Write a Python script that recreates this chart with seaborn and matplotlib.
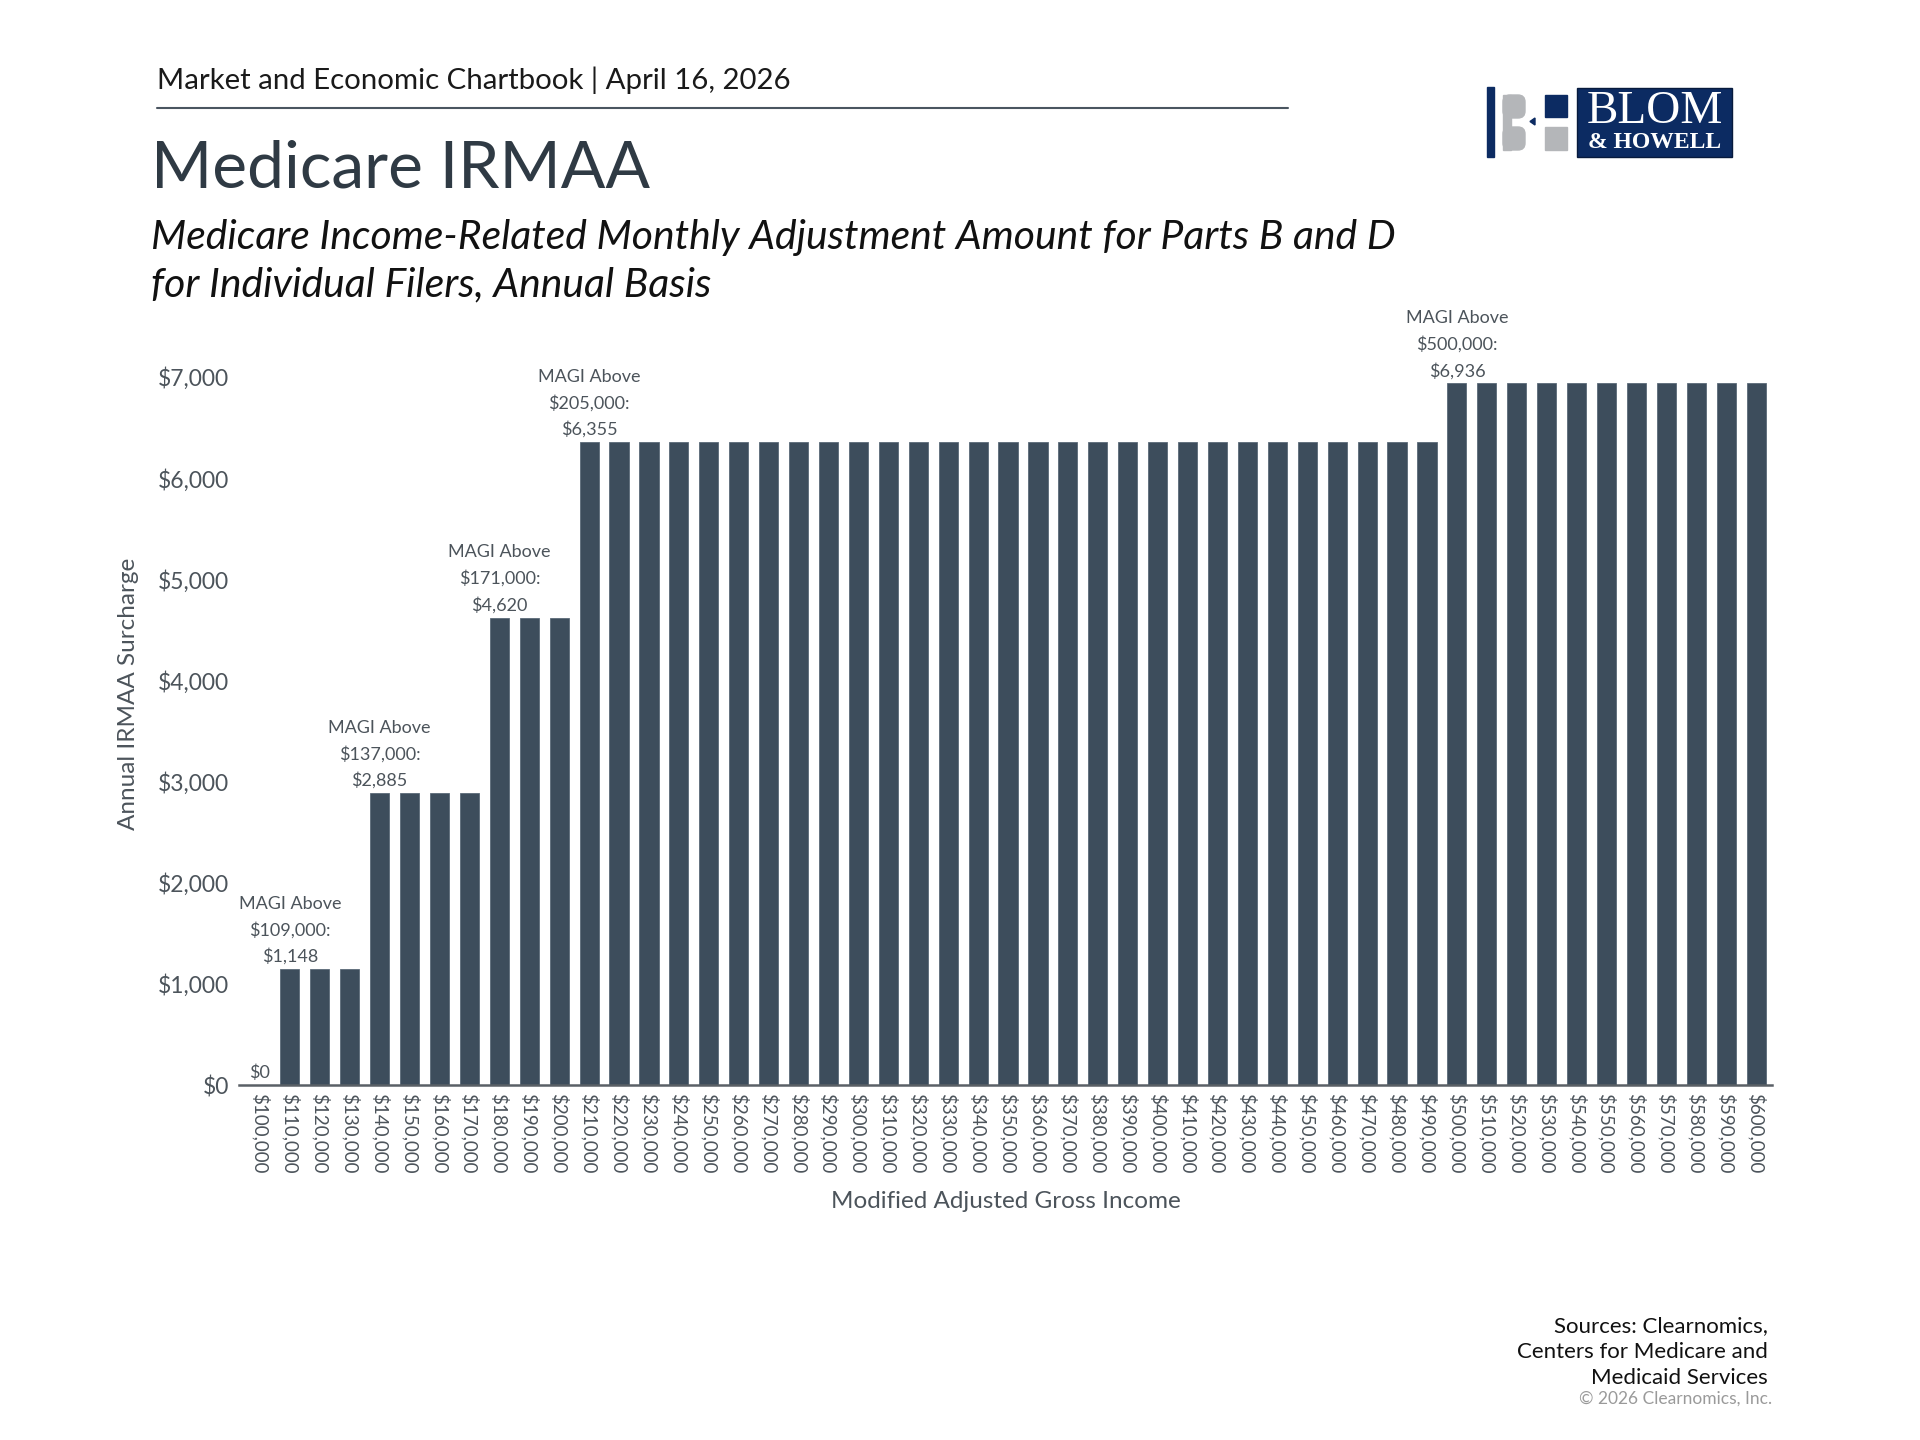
import matplotlib
matplotlib.use("Agg")
import matplotlib.pyplot as plt
import matplotlib.patches as mpatches
import seaborn as sns
import pandas as pd

# data
incomes = [100000, 110000, 120000, 130000, 140000, 150000, 160000, 170000,
           180000, 190000, 200000, 210000, 220000, 230000, 240000, 250000,
           260000, 270000, 280000, 290000, 300000, 310000, 320000, 330000,
           340000, 350000, 360000, 370000, 380000, 390000, 400000, 410000,
           420000, 430000, 440000, 450000, 460000, 470000, 480000, 490000,
           500000, 510000, 520000, 530000, 540000, 550000, 560000, 570000,
           580000, 590000, 600000]
surcharge = [0, 1148, 1148, 1148, 2885, 2885, 2885, 2885,
             4620, 4620, 4620, 6355, 6355, 6355, 6355, 6355,
             6355, 6355, 6355, 6355, 6355, 6355, 6355, 6355,
             6355, 6355, 6355, 6355, 6355, 6355, 6355, 6355,
             6355, 6355, 6355, 6355, 6355, 6355, 6355, 6355,
             6936, 6936, 6936, 6936, 6936, 6936, 6936, 6936,
             6936, 6936, 6936]
tier_thresholds = ["$109,000", "$137,000", "$171,000", "$205,000", "$500,000"]
y_ticks = [0, 1000, 2000, 3000, 4000, 5000, 6000, 7000]

df = pd.DataFrame({"income": [f"${v:,}" for v in incomes], "surcharge": surcharge})

sns.set_style("white")
plt.rcParams["font.family"] = ["Lato", "DejaVu Sans"]

BAR = "#3d4d5c"
GREY_TXT = "#4c545b"

fig = plt.figure(figsize=(19.2, 14.4), dpi=100)
ax = fig.add_axes([0.1245, 0.2465, 0.7984, 0.4917])

sns.barplot(data=df, x="income", y="surcharge", color=BAR, saturation=1,
            width=0.64, edgecolor="#5b6a78", linewidth=0.6, ax=ax)

ax.set_xlim(-0.7, len(incomes) - 1 + 0.53)
ax.set_ylim(0, 7000)
ax.set_yticks(y_ticks)
ax.set_yticklabels([f"${v:,}" for v in y_ticks], fontsize=16.5, color=GREY_TXT)
ax.tick_params(axis="x", labelrotation=270, labelsize=13.5, labelcolor=GREY_TXT,
               length=0, pad=6)
ax.tick_params(axis="y", length=6, width=1.5, color="#5a6066", pad=1)
for i, t in enumerate(ax.yaxis.get_major_ticks()):
    if i > 0:
        t.tick1line.set_visible(False)

for s in ["top", "right", "left"]:
    ax.spines[s].set_visible(False)
ax.spines["bottom"].set_color("#5a6066")
ax.spines["bottom"].set_linewidth(1.8)

ax.set_xlabel("Modified Adjusted Gross Income", fontsize=17.5, color=GREY_TXT, labelpad=12)
ax.set_ylabel("Annual IRMAA Surcharge", fontsize=17.5, color=GREY_TXT)
ax.yaxis.set_label_coords(-0.065, 0.553)

# value labels: first bar of each tier
ax.annotate("$0", xy=(0, 0), xytext=(0, 3), textcoords="offset points",
            ha="center", va="bottom", fontsize=13, color=GREY_TXT)
tier = 0
for i in range(1, len(surcharge)):
    if surcharge[i] != surcharge[i - 1]:
        ax.annotate(f"MAGI Above\n{tier_thresholds[tier]}:\n${surcharge[i]:,}",
                    xy=(i, surcharge[i]), xytext=(0, 3), textcoords="offset points",
                    ha="center", va="bottom", fontsize=13, color=GREY_TXT,
                    linespacing=1.7, annotation_clip=False)
        tier += 1

# header / titles
fig.text(157 / 1920, 1 - 80 / 1440, "Market and Economic Chartbook | April 16, 2026",
         fontsize=21.2, color="#1a1a1a", va="center", ha="left")
fig.add_artist(plt.Line2D([157 / 1920, 1288 / 1920], [1 - 108 / 1440, 1 - 108 / 1440],
                          color="#4a5560", lw=1.5))
fig.text(151 / 1920, 1 - 188 / 1440, "Medicare IRMAA", fontsize=47.5, color="#2f3a44",
         va="baseline", ha="left")
fig.text(151 / 1920, 1 - 249 / 1440,
         "Medicare Income-Related Monthly Adjustment Amount for Parts B and D",
         fontsize=29.4, style="italic", color="#111111", va="baseline", ha="left")
fig.text(151 / 1920, 1 - 296 / 1440, "for Individual Filers, Annual Basis",
         fontsize=29.4, style="italic", color="#111111", va="baseline", ha="left")

# footer
fig.text(1768 / 1920, 1 - 1316 / 1440,
         "Sources: Clearnomics,\nCenters for Medicare and\nMedicaid Services",
         fontsize=16, color="#111111", ha="right", va="top", linespacing=1.38)
fig.text(1772 / 1920, 1 - 1399 / 1440, "\u00a9 2026 Clearnomics, Inc.",
         fontsize=12.5, color="#9a9a9a", ha="right", va="center")

# logo drawn in pixel coordinates
lg = fig.add_axes([0, 0, 1, 1], zorder=-1)
lg.set_xlim(0, 1920)
lg.set_ylim(1440, 0)
lg.axis("off")
NAVY = "#0c2b62"
LGREY = "#b4b6b9"
lg.add_patch(mpatches.Rectangle((1487, 87), 7, 70, color=NAVY))
lg.add_patch(mpatches.Rectangle((1503, 95), 8, 55, color=LGREY))
lg.add_patch(mpatches.FancyBboxPatch((1503, 95), 22, 23, boxstyle="round,pad=0,rounding_size=7", color=LGREY))
lg.add_patch(mpatches.FancyBboxPatch((1503, 127), 22, 23, boxstyle="round,pad=0,rounding_size=7", color=LGREY))
lg.add_patch(mpatches.Polygon([[1530, 121.5], [1535, 118], [1535, 125]], color=NAVY))
lg.add_patch(mpatches.Rectangle((1545, 95), 22, 22, color=NAVY))
lg.add_patch(mpatches.Rectangle((1545, 127), 22, 23, color=LGREY))
lg.add_patch(mpatches.Rectangle((1577, 88), 155, 69, facecolor=NAVY, edgecolor="#071a3d", lw=1))
lg.text(1655, 112, "BLOM", fontsize=34, color="white", ha="center", va="center",
        family="Liberation Serif")
lg.text(1655, 143, "& HOWELL", fontsize=17, color="white", ha="center", va="center",
        family="Liberation Serif", weight="bold")

fig.savefig("out.png", dpi=100, facecolor="white")
